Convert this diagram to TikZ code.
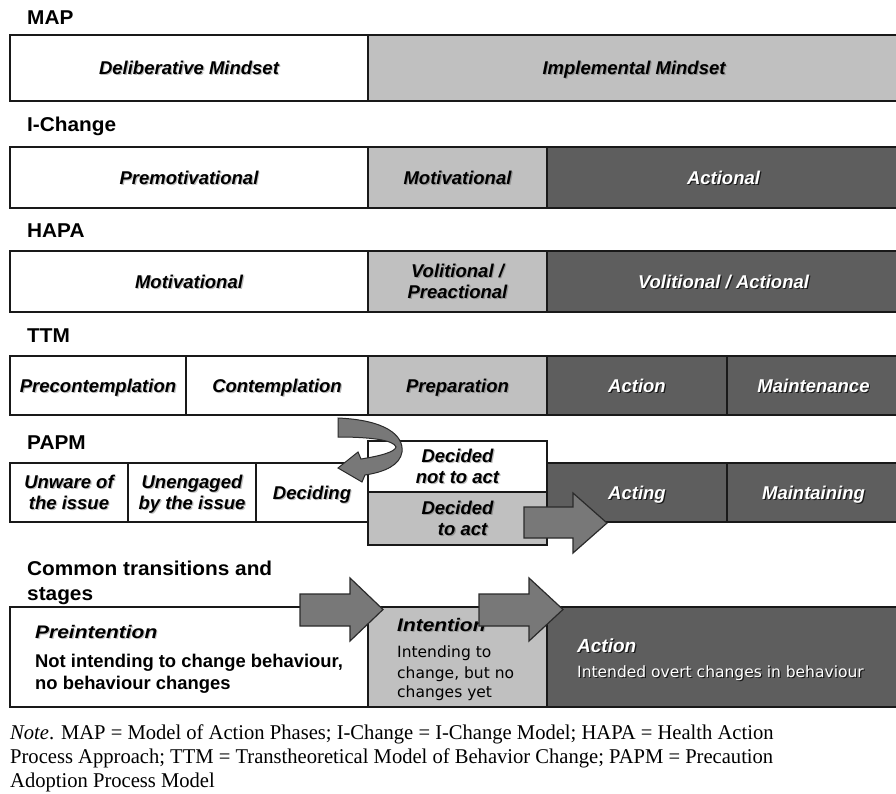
\documentclass[tikz,border=0pt]{standalone}
\usepackage{fontspec}
\newfontfamily\arialf{Liberation Sans}
\newfontfamily\arialhead[FakeStretch=1.04]{Liberation Sans}
\newfontfamily\arialwide[FakeStretch=1.15]{Liberation Sans}
\newfontfamily\verdf{DejaVu Sans}
\newfontfamily\timesf[FakeStretch=0.98]{Liberation Serif}
\definecolor{lgray}{HTML}{C0C0C0}
\definecolor{dgray}{HTML}{5E5E5E}
\definecolor{arrfill}{HTML}{787878}
\definecolor{arrline}{HTML}{2A2A2A}
\definecolor{shc}{HTML}{B0B0B0}
\newcommand\shd[1]{\leavevmode\rlap{\kern1.2pt\raisebox{-1.2pt}{\color{shc}#1}}#1}
\newcommand\cell[7]{%
  \node[#6, minimum width=\dimexpr #4pt-#2pt\relax, minimum height=\dimexpr #5pt-#3pt\relax]
    (#1) at ({(#2+#4)/2},{(#3+#5)/2}) {#7};}
\newcommand\blockarrow[7]{% x0, body top, body bottom, head x, head top, head bottom, tip x
  \filldraw[blockarr] (#1,#2) -- (#4,#2) -- (#4,#5) -- (#7,{(#5+#6)/2}) -- (#4,#6) -- (#4,#3) -- (#1,#3) -- cycle;}
\tikzset{
  box/.style={draw=black!90, line width=1.6pt, inner sep=0pt, align=center, text depth=0pt,
    font=\arialf\bfseries\itshape\fontsize{18.5}{21}\selectfont},
  one/.style={text height=13.4pt, text depth=0pt},
  wcell/.style={box, fill=white, text=black, execute at begin node={\colorlet{shc}{black!25}}},
  lcell/.style={box, fill=lgray, text=black, execute at begin node={\colorlet{shc}{black!42}}},
  dcell/.style={box, fill=dgray, text=white, execute at begin node={\colorlet{shc}{black!90}}},
  head/.style={anchor=base west, inner sep=0pt, font=\arialhead\bfseries\fontsize{20}{25}\selectfont},
  blockarr/.style={fill=arrfill, draw=arrline, line width=1.2pt, line join=miter},
  notes/.style={anchor=base west, inner sep=0pt, font=\timesf\fontsize{21}{24}\selectfont},
  txt/.style={anchor=base west, inner sep=0pt},
}
\begin{document}
\begin{tikzpicture}[x=1pt,y=-1pt]
\useasboundingbox[fill=white] (0,0) rectangle (896,794);

% MAP
\node[head] (hmap) at (27,25) {MAP};
\cell{map1}{10}{35}{368}{101}{wcell,one}{\shd{Deliberative Mindset}}
\cell{map2}{368}{35}{900}{101}{lcell,one}{\shd{Implemental Mindset}}

% I-Change
\node[head] (hich) at (27,132) {I-Change};
\cell{ic1}{10}{147}{368}{208}{wcell,one}{\shd{Premotivational}}
\cell{ic2}{368}{147}{547}{208}{lcell,one}{\shd{Motivational}}
\cell{ic3}{547}{147}{900}{208}{dcell,one}{\shd{Actional}}

% HAPA
\node[head] (hhapa) at (27,238) {HAPA};
\cell{ha1}{10}{251}{368}{312}{wcell,one}{\shd{Motivational}}
\cell{ha2}{368}{251}{547}{312}{lcell}{\shd{Volitional /}\\\shd{Preactional}}
\cell{ha3}{547}{251}{900}{312}{dcell,one}{\shd{Volitional / Actional}}

% TTM
\node[head] (httm) at (27,342) {TTM};
\cell{tt1}{10}{356}{186}{415}{wcell,one}{\shd{Precontemplation}}
\cell{tt2}{186}{356}{368}{415}{wcell,one}{\shd{Contemplation}}
\cell{tt3}{368}{356}{547}{415}{lcell,one}{\shd{Preparation}}
\cell{tt4}{547}{356}{727}{415}{dcell,one}{\shd{Action}}
\cell{tt5}{727}{356}{900}{415}{dcell,one}{\shd{Maintenance}}

% PAPM
\node[head] (hpapm) at (27,449) {PAPM};
\cell{pa1}{10}{463}{128}{522}{wcell}{\shd{Unware of}\\\shd{the issue}}
\cell{pa2}{128}{463}{256}{522}{wcell}{\shd{Unengaged}\\\shd{by the issue}}
\cell{pa3}{256}{463}{368}{522}{wcell,one}{\shd{Deciding}}
\cell{pa4}{368}{441}{547}{492}{wcell}{\shd{Decided}\\\shd{not to act}}
\cell{pa5}{368}{492}{547}{545}{lcell}{\shd{Decided}\\\shd{~~to act}}
\cell{pa6}{547}{463}{727}{522}{dcell,one}{\shd{Acting}}
\cell{pa7}{727}{463}{900}{522}{dcell,one}{\shd{Maintaining}}

% curved arrow (Decided not to act -> Deciding)
\filldraw[blockarr, line width=1pt] (338,418)
  .. controls (385,420) and (404,435) .. (402,452)
  .. controls (400,465) and (385,472) .. (365,475)
  -- (362,482) -- (338,468) -- (358,452) -- (361,459)
  .. controls (380,456) and (395,452) .. (396,447)
  .. controls (394,440) and (370,437) .. (338,437) -- cycle;
% arrow Decided to act -> Acting
\blockarrow{524}{507}{538}{573}{493}{553}{607}

% Common transitions
\node[head] (hcom1) at (27,575) {Common transitions and};
\node[head] (hcom2) at (27,600) {stages};
\cell{co1}{10}{607}{368}{707}{wcell}{}
\cell{co2}{368}{607}{547}{707}{lcell}{}
\cell{co3}{547}{607}{900}{707}{dcell}{}

\begin{scope}[execute at begin node={\colorlet{shc}{black!22}}]
\node[txt, font=\arialwide\bfseries\itshape\fontsize{18.2}{21}\selectfont] (pre) at (35,638) {\shd{Preintention}};
\node[txt, font=\arialf\bfseries\fontsize{18.4}{22}\selectfont] (pre1) at (35,667) {Not intending to change behaviour,};
\node[txt, font=\arialf\bfseries\fontsize{18.4}{22}\selectfont] (pre2) at (35,689) {no behaviour changes};
\end{scope}
\begin{scope}[execute at begin node={\colorlet{shc}{black!40}}]
\node[txt, font=\arialwide\bfseries\itshape\fontsize{18.2}{21}\selectfont] (int) at (397,631) {\shd{Intention}};
\node[txt, font=\verdf\fontsize{15.5}{20}\selectfont] (int1) at (397,657) {Intending to};
\node[txt, font=\verdf\fontsize{15.5}{20}\selectfont] (int2) at (397,678) {change, but no};
\node[txt, font=\verdf\fontsize{15.5}{20}\selectfont] (int3) at (397,697) {changes yet};
\end{scope}
\begin{scope}[execute at begin node={\colorlet{shc}{black!90}}]
\node[txt, text=white, font=\arialf\bfseries\itshape\fontsize{19}{21}\selectfont] (act) at (577,652) {\shd{Action}};
\node[txt, text=white, font=\verdf\fontsize{15.5}{20}\selectfont] (act1) at (577,677) {\shd{Intended overt changes in behaviour}};
\end{scope}

\blockarrow{300}{594}{626}{350}{578}{641}{383}
\blockarrow{479}{594}{626}{529}{578}{641}{563}

% Note
\node[notes] (n1) at (10,739) {\textit{Note}. MAP = Model of Action Phases; I-Change = I-Change Model; HAPA = Health Action};
\node[notes] (n2) at (10,763) {Process Approach; TTM = Transtheoretical Model of Behavior Change; PAPM = Precaution};
\node[notes] (n3) at (10,787) {Adoption Process Model};
\end{tikzpicture}
\end{document}
